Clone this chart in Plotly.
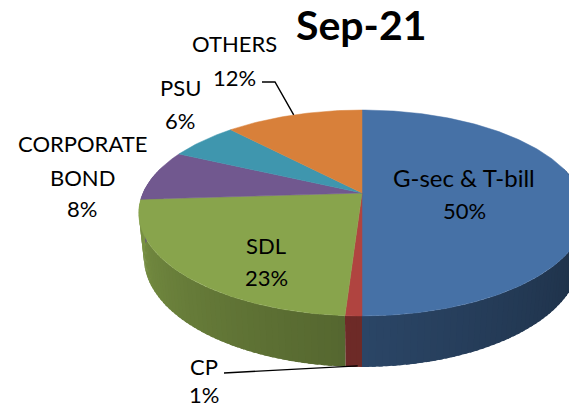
import numpy as np
import plotly.graph_objects as go

# ---------------- data ----------------
labels = ["G-sec & T-bill", "CP", "SDL", "CORPORATE BOND", "PSU", "OTHERS"]
values = [50, 1, 23, 8, 6, 12]
title_text = "Sep-21"

# ---------------- styles ----------------
top_colors = ["#4671A6", "#B04440", "#88A44C", "#71588F", "#3F96AE", "#D8803A"]
FONT = "Lato"
W, H = 569, 408

# 3D perspective projection of an extruded disk (pixel space)
CX, CY = 362.0, 193.0
F, D0 = 1006.5, 4.596
ALPHA = np.radians(26.9)
DEPTH = 0.2307
SA, CA = np.sin(ALPHA), np.cos(ALPHA)


def proj(theta, h):
    theta = np.asarray(theta, dtype=float)
    X = np.sin(theta)
    b = np.cos(theta)
    d = D0 + b * CA - h * SA
    u = b * SA + h * CA
    return CX + F * X / d, CY - F * u / d


def hex_to_rgb(hx):
    hx = hx.lstrip("#")
    return tuple(int(hx[i:i + 2], 16) for i in (0, 2, 4))


def shade(hx, f):
    r, g, b = hex_to_rgb(hx)
    return "rgb(%d,%d,%d)" % (r * f, g * f, b * f)


def wall_factor(theta):
    t = np.clip((np.degrees(theta) - 90.0) / 180.0, 0, 1)
    return 0.40 + 0.52 * t ** 1.25


total = float(sum(values))
cum = np.concatenate([[0.0], np.cumsum(values)]) / total
angles = 2 * np.pi * cum

fig = go.Figure()

# side walls (front half only), drawn as thin overlapping shaded strips
lo_vis, hi_vis = np.radians(75), np.radians(285)
step = np.radians(1.5)
for i, col in enumerate(top_colors):
    a0 = max(angles[i], lo_vis)
    a1 = min(angles[i + 1], hi_vis)
    if a1 <= a0:
        continue
    n = max(1, int(np.ceil((a1 - a0) / step)))
    edges = np.linspace(a0, a1, n + 1)
    for k in range(n):
        e1 = min(edges[k + 1] + 0.6 * step, a1)
        th = np.linspace(edges[k], e1, 5)
        xt, yt = proj(th, 0.0)
        xb, yb = proj(th[::-1], -DEPTH)
        xs = np.concatenate([xt, xb, xt[:1]])
        ys = np.concatenate([yt, yb, yt[:1]])
        c = shade(col, wall_factor(0.5 * (edges[k] + edges[k + 1])))
        fig.add_trace(go.Scatter(x=xs, y=ys, mode="lines", fill="toself",
                                 fillcolor=c, line=dict(width=0),
                                 hoverinfo="skip", showlegend=False))

# top faces
for i, col in enumerate(top_colors):
    th = np.linspace(angles[i], angles[i + 1], max(3, int(values[i] * 4)))
    xr, yr = proj(th, 0.0)
    xs = np.concatenate([[CX], xr, [CX]])
    ys = np.concatenate([[CY], yr, [CY]])
    fig.add_trace(go.Scatter(x=xs, y=ys, mode="lines", fill="toself",
                             fillcolor=col, line=dict(color=col, width=0.5),
                             hoverinfo="skip", showlegend=False, name=labels[i]))

# leader lines for OTHERS and CP (end points computed from slice mid-angles)
mid = 0.5 * (angles[:-1] + angles[1:])
ox, oy = proj(mid[5], 0.0)
fig.add_trace(go.Scatter(x=[262, 275, float(ox)], y=[82, 82, float(oy)], mode="lines",
                         line=dict(color="black", width=1.4), hoverinfo="skip",
                         showlegend=False))
cx_, cy_ = proj(mid[1], -DEPTH)
fig.add_trace(go.Scatter(x=[224, float(cx_) + 4], y=[373, float(cy_) - 1], mode="lines",
                         line=dict(color="black", width=1.4), hoverinfo="skip",
                         showlegend=False))

# labels
pct = ["%d%%" % v for v in values]
label_lines = [
    ([labels[0], pct[0]], 464, [177, 210], [24, 22]),
    (["CP", pct[1]], 204, [366, 394], [22, 22]),
    (["SDL", pct[2]], 266, [245, 277], [22, 22]),
    (["CORPORATE", "BOND", pct[3]], 82, [143, 177, 208], [22, 22, 22]),
    (["PSU", pct[4]], 180, [87, 120], [22, 22]),
    (["OTHERS", pct[5]], 234, [43, 77], [22, 22]),
]
annotations = []
for lines, x, ys, sizes in label_lines:
    for txt, y, sz in zip(lines, ys, sizes):
        annotations.append(dict(x=x, y=y, xref="x", yref="y", text=txt,
                                showarrow=False, xanchor="center", yanchor="middle",
                                font=dict(family=FONT, size=sz, color="black")))
annotations.append(dict(x=361, y=24, xref="x", yref="y", text="<b>%s</b>" % title_text,
                        showarrow=False, xanchor="center", yanchor="middle",
                        font=dict(family=FONT, size=41, color="black")))

fig.update_layout(
    width=W, height=H,
    margin=dict(l=0, r=0, t=0, b=0, pad=0),
    paper_bgcolor="white", plot_bgcolor="white",
    xaxis=dict(range=[0, W], visible=False, fixedrange=True),
    yaxis=dict(range=[H, 0], visible=False, fixedrange=True),
    annotations=annotations,
    showlegend=False,
)

fig.write_html("out.html", config={"displayModeBar": False},
               post_script="document.body.style.margin='0';document.body.style.overflow='hidden';")
